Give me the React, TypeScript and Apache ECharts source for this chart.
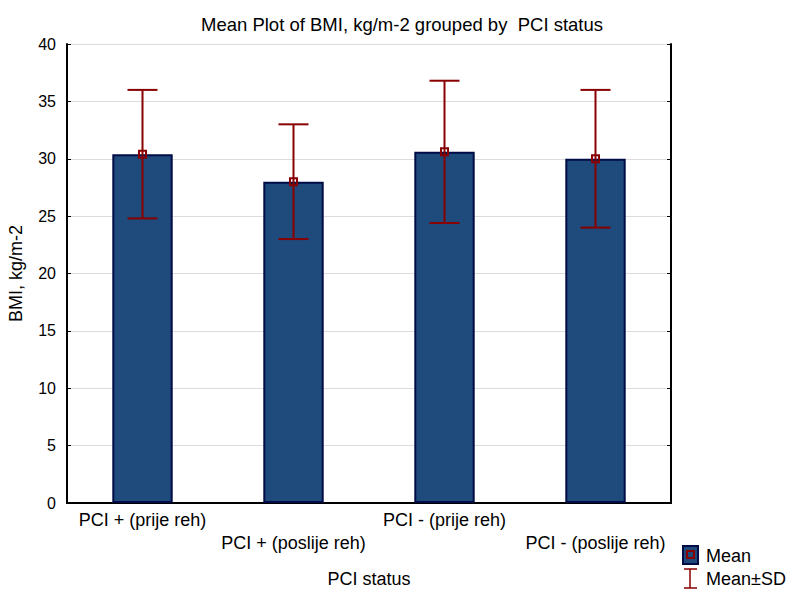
import React, { useEffect, useRef } from "react";
import * as echarts from "echarts";

const categories = [
  "PCI + (prije reh)",
  "PCI + (poslije reh)",
  "PCI - (prije reh)",
  "PCI - (poslije reh)",
];
const means = [30.4, 28.0, 30.6, 30.0];
const sds = [5.6, 5.0, 6.2, 6.0];
const yTicks = { min: 0, max: 40, interval: 5 };

const BAR = "#1f4a7c";
const BAR_BORDER = "#000c45";
const ERR = "#880000";
const FONT = "Liberation Sans, Arial, sans-serif";

export default function App() {
  const ref = useRef<HTMLDivElement>(null);
  useEffect(() => {
    document.body.style.margin = "0";
    if (!ref.current) return;
    const chart = echarts.init(ref.current, null, { renderer: "svg" });
    const errData = means.map((m, i) => [i, m, m - sds[i], m + sds[i]]);
    chart.setOption({
      animation: false,
      backgroundColor: "#ffffff",
      textStyle: { fontFamily: FONT },
      title: {
        text: "Mean Plot of BMI, kg/m-2 grouped by  PCI status",
        left: 397,
        textAlign: "center",
        top: 10,
        textStyle: { fontSize: 18.5, fontWeight: "normal", color: "#000", fontFamily: FONT },
      },
      grid: { left: 67, right: 117, top: 44, bottom: 86, outerBoundsMode: "none", containLabel: false },
      xAxis: [
        {
          type: "category",
          data: categories,
          position: "bottom",
          axisLine: { lineStyle: { color: "#000", width: 2 } },
          axisTick: { inside: true, alignWithLabel: true, length: 4, lineStyle: { color: "#000" } },
          axisLabel: {
            fontSize: 18,
            color: "#000",
            fontFamily: FONT,
            margin: 5,
            lineHeight: 23,
            interval: 0,
            formatter: (v: string, i: number) => (i % 2 === 1 ? "\n" + v : v),
          },
          name: "PCI status",
          nameLocation: "middle",
          nameGap: 67,
          nameTextStyle: { fontSize: 18, color: "#000", fontFamily: FONT },
          splitLine: { show: false },
        },
        {
          type: "category",
          data: categories,
          position: "top",
          axisLine: { lineStyle: { color: "#000", width: 2 } },
          axisTick: { inside: true, alignWithLabel: true, length: 4, lineStyle: { color: "#000" } },
          axisLabel: { show: false },
        },
      ],
      yAxis: [
        {
          type: "value",
          ...yTicks,
          position: "left",
          axisLine: { show: true, lineStyle: { color: "#000", width: 2 } },
          axisTick: { show: true, inside: true, length: 4, lineStyle: { color: "#000" } },
          axisLabel: { fontSize: 16, color: "#000", fontFamily: FONT, margin: 11 },
          splitLine: { show: true, lineStyle: { color: "#dcdcdc", width: 1 } },
          name: "BMI, kg/m-2",
          nameLocation: "middle",
          nameGap: 42,
          nameTextStyle: { fontSize: 18, color: "#000", fontFamily: FONT },
        },
        {
          type: "value",
          ...yTicks,
          position: "right",
          axisLine: { show: true, lineStyle: { color: "#000", width: 2 } },
          axisTick: { show: true, inside: true, length: 4, lineStyle: { color: "#000" } },
          axisLabel: { show: false },
          splitLine: { show: false },
        },
      ],
      series: [
        {
          type: "bar",
          data: means,
          barWidth: "40%",
          itemStyle: { color: BAR, borderColor: BAR_BORDER, borderWidth: 2 },
          z: 2,
        },
        {
          type: "custom",
          data: errData,
          z: 5,
          renderItem: (params: any, api: any) => {
            const x = api.value(0);
            const m = api.coord([x, api.value(1)]);
            const lo = api.coord([x, api.value(2)]);
            const hi = api.coord([x, api.value(3)]);
            const hw = 15;
            const style = { stroke: ERR, lineWidth: 2 };
            return {
              type: "group",
              children: [
                { type: "line", shape: { x1: hi[0], y1: hi[1], x2: lo[0], y2: lo[1] }, style },
                { type: "line", shape: { x1: hi[0] - hw, y1: hi[1], x2: hi[0] + hw, y2: hi[1] }, style },
                { type: "line", shape: { x1: lo[0] - hw, y1: lo[1], x2: lo[0] + hw, y2: lo[1] }, style },
                {
                  type: "rect",
                  shape: { x: m[0] - 3.5, y: m[1] - 3.5, width: 7, height: 7 },
                  style: { stroke: ERR, lineWidth: 2, fill: "none" },
                },
              ],
            };
          },
        },
      ],
      graphic: [
        { type: "rect", shape: { x: 683, y: 546, width: 15, height: 18 }, style: { fill: BAR, stroke: BAR_BORDER, lineWidth: 2 } },
        { type: "rect", shape: { x: 687, y: 551, width: 7, height: 7 }, style: { fill: "none", stroke: ERR, lineWidth: 2 } },
        { type: "text", x: 706, y: 556, style: { text: "Mean", fontSize: 18, fill: "#000", fontFamily: FONT, verticalAlign: "middle" } },
        { type: "line", shape: { x1: 690, y1: 569, x2: 690, y2: 588 }, style: { stroke: ERR, lineWidth: 1.5 } },
        { type: "line", shape: { x1: 684, y1: 569, x2: 697, y2: 569 }, style: { stroke: ERR, lineWidth: 1.5 } },
        { type: "line", shape: { x1: 684, y1: 588, x2: 697, y2: 588 }, style: { stroke: ERR, lineWidth: 1.5 } },
        { type: "text", x: 706, y: 579, style: { text: "Mean±SD", fontSize: 18, fill: "#000", fontFamily: FONT, verticalAlign: "middle" } },
      ],
    });
    return () => chart.dispose();
  }, []);
  return <div ref={ref} style={{ width: 788, height: 589 }} />;
}
